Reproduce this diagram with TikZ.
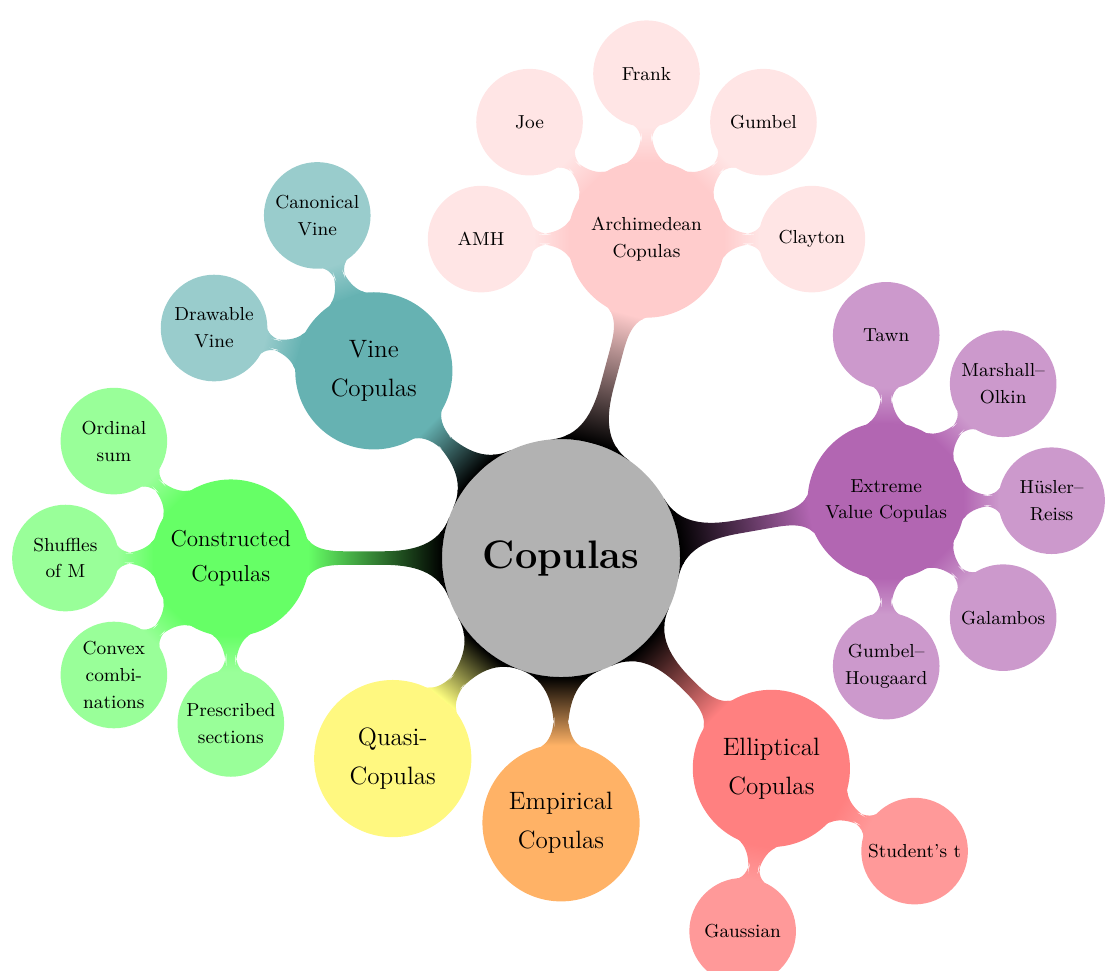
\documentclass[tikz,border=0pt]{standalone}
\usetikzlibrary{mindmap}

\tikzset{
	hub/.style={concept,minimum size=2.6cm,text width={},inner sep=0pt,align=center,
		font=\fontsize{12}{18.5}\selectfont},
	leaf/.style={concept,minimum size=1.75cm,text width={},inner sep=0pt,align=center,
		font=\fontsize{9}{12.8}\selectfont},
	rootbar/.style={line width=7.5pt},
	leafbar/.style={line width=5pt}
}

\begin{document}
\begin{tikzpicture}[mindmap,text=black]
\useasboundingbox (-9.43,-6.94) rectangle (9.16,9.38);

% centre
\node[concept,concept color=black,fill=black!30,draw=none,minimum size=4cm,text width={},
	inner sep=0pt,font=\fontsize{19}{23}\selectfont\bfseries] (cop) at (0,0) {Copulas};

% first ring
\node[hub,concept color=red!20,font=\fontsize{9}{12.5}\selectfont] (arch) at (75:5.55) {Archimedean\\Copulas};
\node[hub,concept color=violet!60,font=\fontsize{9}{12.5}\selectfont] (ext) at (10:5.55) {Extreme\\Value Copulas};
\node[hub,concept color=red!50] (ell) at (-45:5) {Elliptical\\Copulas};
\node[hub,concept color=orange!60] (emp) at (-90:4.45) {Empirical\\Copulas};
\node[hub,concept color=yellow!50] (qua) at (-130:4.4) {Quasi-\\Copulas};
\node[hub,concept color=green!60,font=\fontsize{11}{16.7}\selectfont] (con) at (180:5.55) {Constructed\\Copulas};
\node[hub,concept color=teal!60] (vin) at (135:4.45) {Vine\\Copulas};

\foreach \n/\c in {arch/red!20,ext/violet!60,ell/red!50,emp/orange!60,qua/yellow!50,con/green!60,vin/teal!60}
	\path[rootbar] (cop) to[circle connection bar switch color=from (black) to (\c)] (\n);

% second ring
\foreach \ang/\n/\t in {180/amh/AMH,135/joe/Joe,90/fra/Frank,45/gum/Gumbel,0/cla/Clayton}{
	\node[leaf,concept color=red!10] (\n) at ([shift={(\ang:2.78)}]arch) {\t};
	\path[leafbar] (arch) to[circle connection bar switch color=from (red!20) to (red!10)] (\n);
}
\foreach \ang/\n/\t in {90/taw/Tawn,45/mar/{Marshall–\\Olkin},0/hue/{Hüsler–\\Reiss},-45/gal/Galambos,-90/gho/{Gumbel–\\Hougaard}}{
	\node[leaf,concept color=violet!40] (\n) at ([shift={(\ang:2.78)}]ext) {\t};
	\path[leafbar] (ext) to[circle connection bar switch color=from (violet!60) to (violet!40)] (\n);
}
\foreach \ang/\n/\t in {-30/stu/Student’s t,-100/gau/Gaussian}{
	\node[leaf,concept color=red!40] (\n) at ([shift={(\ang:2.78)}]ell) {\t};
	\path[leafbar] (ell) to[circle connection bar switch color=from (red!50) to (red!40)] (\n);
}
\foreach \ang/\n/\t in {135/ord/{Ordinal\\sum},180/shu/{Shuffles\\of M},-135/cvx/{Convex\\combi-\\nations},-90/pre/{Prescribed\\sections}}{
	\node[leaf,concept color=green!40] (\n) at ([shift={(\ang:2.78)}]con) {\t};
	\path[leafbar] (con) to[circle connection bar switch color=from (green!60) to (green!40)] (\n);
}
\foreach \ang/\n/\t in {110/can/{Canonical\\Vine},165/dra/{Drawable\\Vine}}{
	\node[leaf,concept color=teal!40] (\n) at ([shift={(\ang:2.78)}]vin) {\t};
	\path[leafbar] (vin) to[circle connection bar switch color=from (teal!60) to (teal!40)] (\n);
}

\end{tikzpicture}
\end{document}
